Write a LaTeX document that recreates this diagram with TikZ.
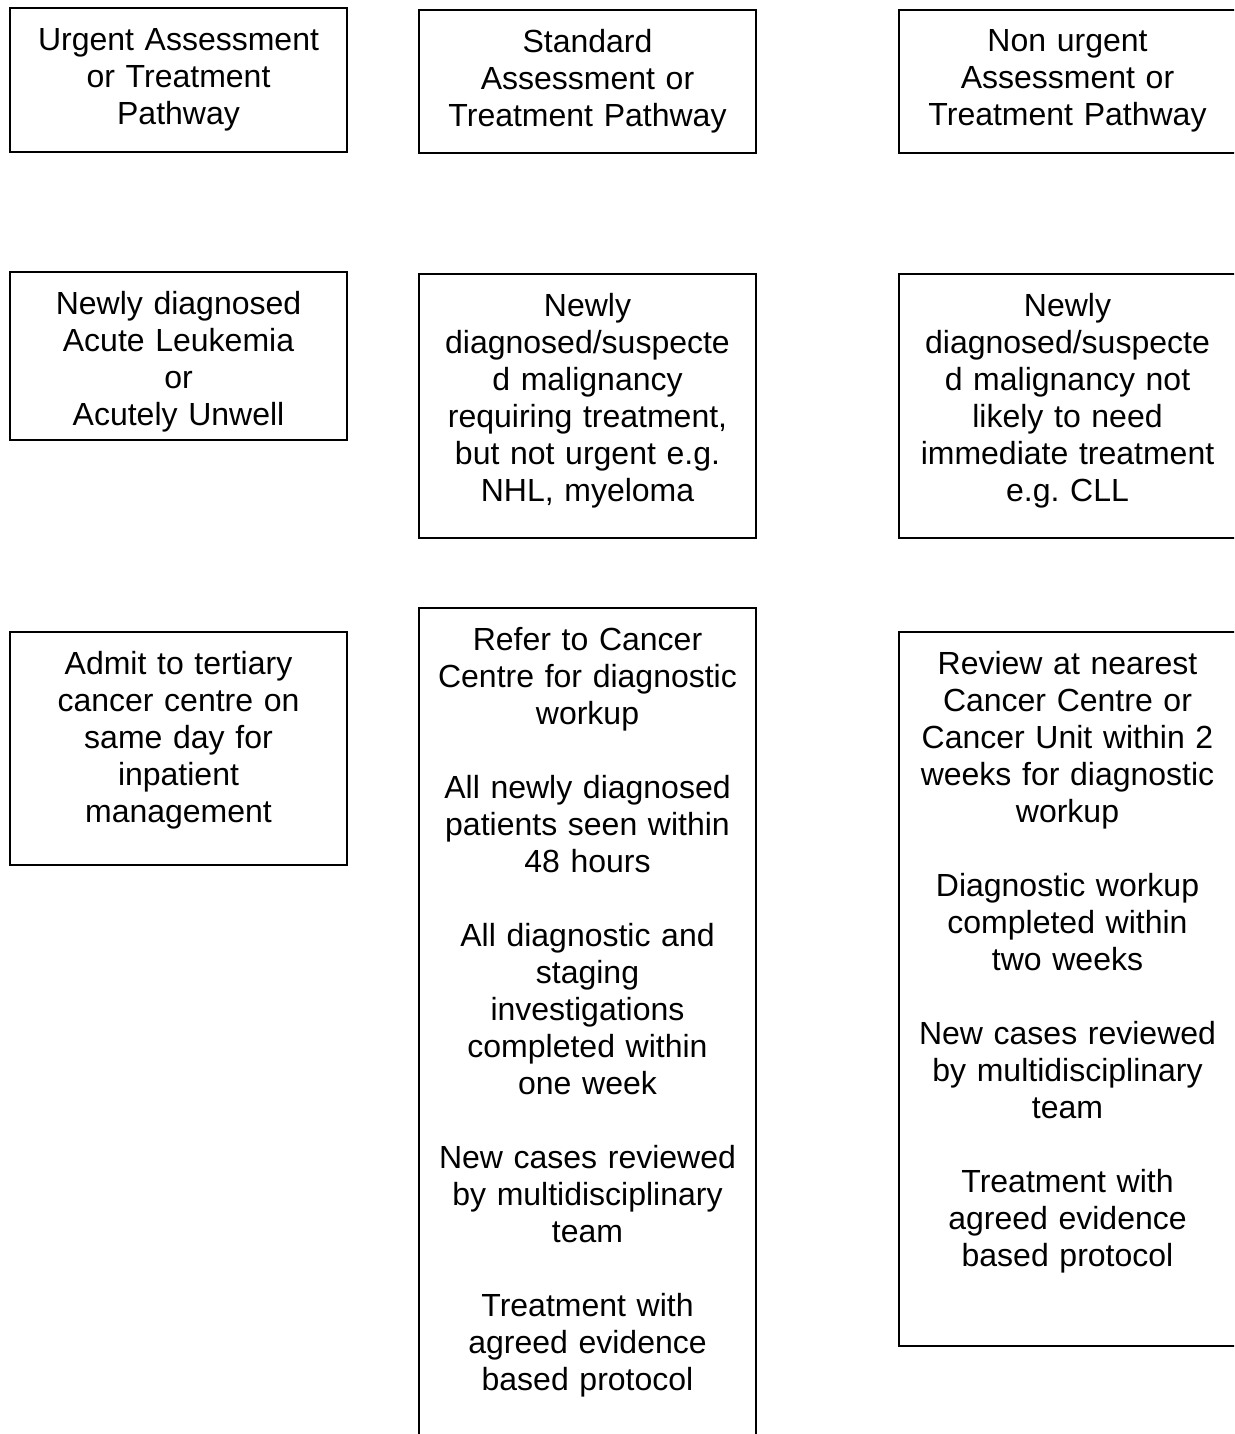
\documentclass[tikz,border=0pt]{standalone}
\usepackage{fontspec}
\setmainfont{Liberation Sans}
\usetikzlibrary{positioning}
\frenchspacing

\begin{document}
\begin{tikzpicture}[x=1pt,y=-1pt,
    pathbox/.style={draw, line width=1.4pt, rectangle, inner sep=0pt, outer sep=0pt,
        minimum width=337pt, anchor=north west},
    boxtext/.style={inner sep=0pt, text width=330pt, align=center,
        font=\fontsize{32}{37}\selectfont}]
\useasboundingbox (0,0) rectangle (1234,1434);
\clip (0,0) rectangle (1234,1434);
% Top row - pathway headers
\node[pathbox, minimum height=144pt] (urgent) at (10,8) {};
\node[pathbox, minimum height=143pt] (standard) at (419,10) {};
\node[pathbox, minimum height=143pt] (nonurgent) at (899,10) {};
\node[boxtext, below=20pt of urgent.north] (urgenttxt) {Urgent Assessment\\or Treatment\\Pathway};
\node[boxtext, below=19pt of standard.north] (standardtxt) {Standard\\Assessment or\\Treatment Pathway};
\node[boxtext, below=19pt of nonurgent.north] (nonurgenttxt) {Non urgent\\Assessment or\\Treatment Pathway};
% Middle row - patient groups
\node[pathbox, minimum height=168pt] (leuk) at (10,272) {};
\node[pathbox, minimum height=264pt] (malig) at (419,274) {};
\node[pathbox, minimum height=264pt] (notneed) at (899,274) {};
\node[boxtext, below=19pt of leuk.north] (leuktxt) {Newly diagnosed\\Acute Leukemia\\or\\Acutely Unwell};
\node[boxtext, below=19pt of malig.north] (maligtxt) {Newly\\diagnosed/suspecte\\d malignancy\\requiring treatment,\\but not urgent e.g.\\NHL, myeloma};
\node[boxtext, below=19pt of notneed.north] (notneedtxt) {Newly\\diagnosed/suspecte\\d malignancy not\\likely to need\\immediate treatment\\e.g. CLL};
% Bottom row - actions
\node[pathbox, minimum height=233pt] (admit) at (10,632) {};
\node[pathbox, minimum height=900pt] (refer) at (419,608) {};
\node[pathbox, minimum height=714pt] (review) at (899,632) {};
\node[boxtext, below=19pt of admit.north] (admittxt) {Admit to tertiary\\cancer centre on\\same day for\\inpatient\\management};
\node[boxtext, below=19pt of refer.north] (refertxt) {Refer to Cancer\\Centre for diagnostic\\workup\\[37pt]All newly diagnosed\\patients seen within\\48 hours\\[37pt]All diagnostic and\\staging\\investigations\\completed within\\one week\\[37pt]New cases reviewed\\by multidisciplinary\\team\\[37pt]Treatment with\\agreed evidence\\based protocol};
\node[boxtext, below=19pt of review.north] (reviewtxt) {Review at nearest\\Cancer Centre or\\Cancer Unit within 2\\weeks for diagnostic\\workup\\[37pt]Diagnostic workup\\completed within\\two weeks\\[37pt]New cases reviewed\\by multidisciplinary\\team\\[37pt]Treatment with\\agreed evidence\\based protocol};
\end{tikzpicture}
\end{document}
